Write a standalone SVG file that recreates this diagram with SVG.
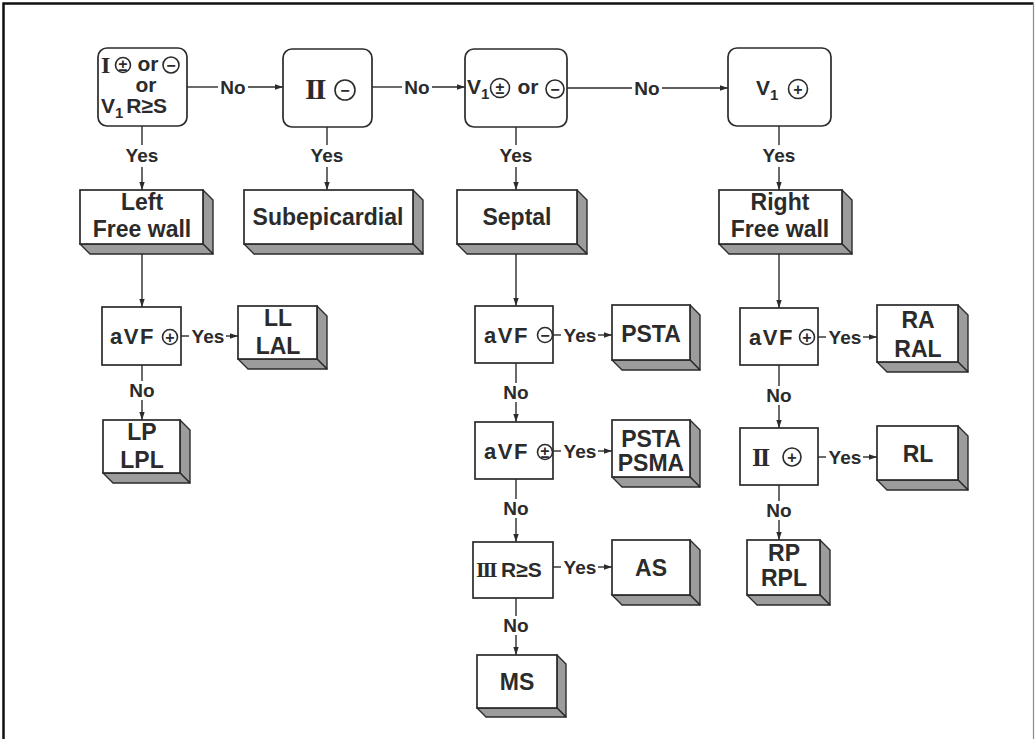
<svg xmlns="http://www.w3.org/2000/svg" width="1036" height="739" viewBox="0 0 1036 739">
<defs>
<marker id="ah" markerUnits="userSpaceOnUse" markerWidth="9" markerHeight="7" refX="8" refY="3.5" orient="auto">
<path d="M0,0.8 L8,3.5 L0,6.2 z" fill="#2b2b2b"/>
</marker>
<style>
.ln{stroke:#2b2b2b;stroke-width:1.4;fill:none}
.arr{stroke:#2b2b2b;stroke-width:1.4;fill:none;marker-end:url(#ah)}
.dec{fill:#fff;stroke:#2b2b2b;stroke-width:1.7}
.face{fill:#fff;stroke:#2b2b2b;stroke-width:1.7}
.side{fill:#9c9c9c;stroke:#2b2b2b;stroke-width:1.4;stroke-linejoin:round}
.lbl{font-family:"Liberation Sans",Arial,sans-serif;font-weight:bold;font-size:19px;fill:#2b2b2b;text-anchor:middle}
.bt{font-family:"Liberation Sans",Arial,sans-serif;font-weight:bold;font-size:23px;fill:#2b2b2b;text-anchor:middle}
.st{font-family:"Liberation Sans",Arial,sans-serif;font-weight:bold;font-size:21px;fill:#2b2b2b}
.av{font-family:"Liberation Sans",Arial,sans-serif;font-weight:bold;font-size:22px;letter-spacing:1.5px;fill:#2b2b2b}
.rom{font-family:"Liberation Serif","Times New Roman",serif;font-weight:bold;fill:#2b2b2b;letter-spacing:-2px}
.cir{fill:none;stroke:#2b2b2b;stroke-width:1.6}
.sym{font-family:"Liberation Sans",Arial,sans-serif;font-weight:bold;font-size:16px;fill:#2b2b2b;text-anchor:middle}
</style>
</defs>
<rect x="0" y="0" width="1036" height="739" fill="#fff"/>
<path d="M3.5,739 V3.5 H1033.5" fill="none" stroke="#111" stroke-width="2.5"/>
<line x1="1033.5" y1="3" x2="1033.5" y2="739" stroke="#8a8a8a" stroke-width="1.2"/>

<g id="connectors">
<line class="ln" x1="187" y1="87" x2="218" y2="87"/><line class="arr" x1="248" y1="87" x2="283" y2="87"/>
<text class="lbl" x="233" y="94">No</text>
<line class="ln" x1="372" y1="87" x2="402" y2="87"/><line class="arr" x1="432" y1="87" x2="465" y2="87"/>
<text class="lbl" x="417" y="94">No</text>
<line class="ln" x1="567" y1="88" x2="632" y2="88"/><line class="arr" x1="662" y1="88" x2="728" y2="88"/>
<text class="lbl" x="647" y="95">No</text>

<line class="ln" x1="142" y1="126" x2="142" y2="145"/><line class="arr" x1="142" y1="167" x2="142" y2="190"/>
<text class="lbl" x="142" y="162">Yes</text>
<line class="ln" x1="327" y1="127" x2="327" y2="145"/><line class="arr" x1="327" y1="167" x2="327" y2="190"/>
<text class="lbl" x="327" y="162">Yes</text>
<line class="ln" x1="516" y1="127" x2="516" y2="145"/><line class="arr" x1="516" y1="167" x2="516" y2="190"/>
<text class="lbl" x="516" y="162">Yes</text>
<line class="ln" x1="779" y1="126" x2="779" y2="145"/><line class="arr" x1="779" y1="167" x2="779" y2="190"/>
<text class="lbl" x="779" y="162">Yes</text>

<line class="arr" x1="142" y1="254" x2="142" y2="307"/>
<line class="arr" x1="516" y1="254" x2="516" y2="306"/>
<line class="arr" x1="779" y1="254" x2="779" y2="308"/>

<line class="ln" x1="181" y1="336" x2="189" y2="336"/><line class="arr" x1="226" y1="336" x2="238" y2="336"/>
<text class="lbl" x="208" y="343">Yes</text>
<line class="ln" x1="142" y1="365" x2="142" y2="381"/><line class="arr" x1="142" y1="400" x2="142" y2="420"/>
<text class="lbl" x="142" y="397">No</text>

<line class="ln" x1="553" y1="335" x2="561" y2="335"/><line class="arr" x1="598" y1="335" x2="612" y2="335"/>
<text class="lbl" x="580" y="342">Yes</text>
<line class="ln" x1="516" y1="363" x2="516" y2="383"/><line class="arr" x1="516" y1="402" x2="516" y2="422"/>
<text class="lbl" x="516" y="399">No</text>
<line class="ln" x1="553" y1="451" x2="561" y2="451"/><line class="arr" x1="598" y1="451" x2="612" y2="451"/>
<text class="lbl" x="580" y="458">Yes</text>
<line class="ln" x1="516" y1="479" x2="516" y2="499"/><line class="arr" x1="516" y1="518" x2="516" y2="542"/>
<text class="lbl" x="516" y="515">No</text>
<line class="ln" x1="553" y1="567" x2="561" y2="567"/><line class="arr" x1="598" y1="567" x2="612" y2="567"/>
<text class="lbl" x="580" y="574">Yes</text>
<line class="ln" x1="516" y1="598" x2="516" y2="616"/><line class="arr" x1="516" y1="635" x2="516" y2="655"/>
<text class="lbl" x="516" y="632">No</text>

<line class="ln" x1="818" y1="337" x2="826" y2="337"/><line class="arr" x1="863" y1="337" x2="877" y2="337"/>
<text class="lbl" x="845" y="344">Yes</text>
<line class="ln" x1="779" y1="365" x2="779" y2="386"/><line class="arr" x1="779" y1="405" x2="779" y2="428"/>
<text class="lbl" x="779" y="402">No</text>
<line class="ln" x1="818" y1="457" x2="826" y2="457"/><line class="arr" x1="863" y1="457" x2="877" y2="457"/>
<text class="lbl" x="845" y="464">Yes</text>
<line class="ln" x1="779" y1="485" x2="779" y2="501"/><line class="arr" x1="779" y1="520" x2="779" y2="540"/>
<text class="lbl" x="779" y="517">No</text>
</g>

<g id="n-lead1">
<rect class="dec" x="98" y="48" width="89" height="78" rx="9"/>
<text class="rom" x="101" y="73" font-size="24">I</text>
<circle class="cir" cx="123" cy="65" r="7.5"/><text class="sym" x="123" y="70.5" font-size="15">±</text>
<text class="st" x="148" y="71" font-size="17" text-anchor="middle">or</text>
<circle class="cir" cx="171" cy="65" r="8"/><text class="sym" x="171" y="70.5" font-size="15">−</text>
<text class="st" x="146" y="92" font-size="17" text-anchor="middle">or</text>
<text class="st" x="101" y="113" font-size="20">V<tspan font-size="15" dy="5">1</tspan><tspan dy="-5" dx="3">R≥S</tspan></text>
</g>

<g id="n-lead2">
<rect class="dec" x="283" y="49" width="89" height="78" rx="9"/>
<text class="rom" x="305" y="99" font-size="30">II</text>
<circle class="cir" cx="345" cy="90" r="10"/><text class="sym" x="345" y="96" font-size="17">−</text>
</g>

<g id="n-v1a">
<rect class="dec" x="465" y="49" width="102" height="78" rx="9"/>
<text class="st" x="467" y="94" font-size="20">V<tspan font-size="15" dy="5">1</tspan></text>
<circle class="cir" cx="500" cy="88" r="9.5"/><text class="sym" x="500" y="94" font-size="17">±</text>
<text class="st" x="528" y="94" font-size="19" text-anchor="middle">or</text>
<circle class="cir" cx="555" cy="89" r="9"/><text class="sym" x="555" y="95" font-size="17">−</text>
</g>

<g id="n-v1b">
<rect class="dec" x="728" y="48" width="103" height="78" rx="9"/>
<text class="st" x="756" y="95" font-size="20">V<tspan font-size="15" dy="5">1</tspan></text>
<circle class="cir" cx="798" cy="89" r="9.5"/><text class="sym" x="798" y="95" font-size="17">+</text>
</g>

<g id="n-leftfree">
<polygon class="side" points="203,190 213,200 213,254 203,244"/>
<polygon class="side" points="80,244 90,254 213,254 203,244"/>
<rect class="face" x="80" y="190" width="123" height="54"/>
<text class="bt" x="142" y="210">Left</text>
<text class="bt" x="142" y="237">Free wall</text>
</g>

<g id="n-subepi">
<polygon class="side" points="413,190 423,200 423,254 413,244"/>
<polygon class="side" points="244,244 254,254 423,254 413,244"/>
<rect class="face" x="244" y="190" width="169" height="54"/>
<text class="bt" x="328" y="225">Subepicardial</text>
</g>

<g id="n-septal">
<polygon class="side" points="577,190 587,200 587,254 577,244"/>
<polygon class="side" points="457,244 467,254 587,254 577,244"/>
<rect class="face" x="457" y="190" width="120" height="54"/>
<text class="bt" x="517" y="225">Septal</text>
</g>

<g id="n-rightfree">
<polygon class="side" points="842,190 852,200 852,254 842,244"/>
<polygon class="side" points="719,244 729,254 852,254 842,244"/>
<rect class="face" x="719" y="190" width="123" height="54"/>
<text class="bt" x="780" y="210">Right</text>
<text class="bt" x="780" y="237">Free wall</text>
</g>

<g id="n-l-avf">
<rect class="dec" x="102" y="307" width="79" height="58"/>
<text class="av" x="110" y="344">aVF</text>
<circle class="cir" cx="170" cy="337" r="7.5"/><text class="sym" x="170" y="342.5">+</text>
</g>

<g id="n-ll">
<polygon class="side" points="317,306 327,316 327,369 317,359"/>
<polygon class="side" points="238,359 248,369 327,369 317,359"/>
<rect class="face" x="238" y="306" width="79" height="53"/>
<text class="bt" x="278" y="326">LL</text>
<text class="bt" x="278" y="354">LAL</text>
</g>

<g id="n-lp">
<polygon class="side" points="180,420 190,430 190,483 180,473"/>
<polygon class="side" points="103,473 113,483 190,483 180,473"/>
<rect class="face" x="103" y="420" width="77" height="53"/>
<text class="bt" x="142" y="440">LP</text>
<text class="bt" x="142" y="468">LPL</text>
</g>

<g id="n-m-avf1">
<rect class="dec" x="475" y="306" width="78" height="57"/>
<text class="av" x="484" y="343">aVF</text>
<circle class="cir" cx="545" cy="335" r="7.5"/><text class="sym" x="545" y="340.5">−</text>
</g>

<g id="n-psta">
<polygon class="side" points="690,305 700,315 700,370 690,360"/>
<polygon class="side" points="612,360 622,370 700,370 690,360"/>
<rect class="face" x="612" y="305" width="78" height="55"/>
<text class="bt" x="651" y="342">PSTA</text>
</g>

<g id="n-m-avf2">
<rect class="dec" x="475" y="422" width="78" height="57"/>
<text class="av" x="484" y="459">aVF</text>
<circle class="cir" cx="545" cy="452" r="7.5"/><text class="sym" x="545" y="457.5">±</text>
</g>

<g id="n-pstapsma">
<polygon class="side" points="690,420 700,430 700,487 690,477"/>
<polygon class="side" points="612,477 622,487 700,487 690,477"/>
<rect class="face" x="612" y="420" width="78" height="57"/>
<text class="bt" x="651" y="447">PSTA</text>
<text class="bt" x="651" y="471">PSMA</text>
</g>

<g id="n-m-iii">
<rect class="dec" x="473" y="542" width="80" height="56"/>
<text class="rom" x="476" y="577" font-size="22">III</text>
<text class="st" x="501" y="577" font-size="20">R≥S</text>
</g>

<g id="n-as">
<polygon class="side" points="690,540 700,550 700,605 690,595"/>
<polygon class="side" points="612,595 622,605 700,605 690,595"/>
<rect class="face" x="612" y="540" width="78" height="55"/>
<text class="bt" x="651" y="576">AS</text>
</g>

<g id="n-ms">
<polygon class="side" points="557,655 566,664 566,717 557,708"/>
<polygon class="side" points="477,708 486,717 566,717 557,708"/>
<rect class="face" x="477" y="655" width="80" height="53"/>
<text class="bt" x="517" y="690">MS</text>
</g>

<g id="n-r-avf">
<rect class="dec" x="740" y="308" width="78" height="57"/>
<text class="av" x="749" y="345">aVF</text>
<circle class="cir" cx="807" cy="337" r="7.5"/><text class="sym" x="807" y="342.5">+</text>
</g>

<g id="n-ra">
<polygon class="side" points="958,305 968,315 968,372 958,362"/>
<polygon class="side" points="877,362 887,372 968,372 958,362"/>
<rect class="face" x="877" y="305" width="81" height="57"/>
<text class="bt" x="918" y="328">RA</text>
<text class="bt" x="918" y="357">RAL</text>
</g>

<g id="n-r-ii">
<rect class="dec" x="740" y="428" width="78" height="57"/>
<text class="rom" x="752" y="466" font-size="26">II</text>
<circle class="cir" cx="792" cy="457" r="9"/><text class="sym" x="792" y="462.5">+</text>
</g>

<g id="n-rl">
<polygon class="side" points="958,426 968,436 968,490 958,480"/>
<polygon class="side" points="877,480 887,490 968,490 958,480"/>
<rect class="face" x="877" y="426" width="81" height="54"/>
<text class="bt" x="918" y="462">RL</text>
</g>

<g id="n-rp">
<polygon class="side" points="820,540 830,550 830,605 820,595"/>
<polygon class="side" points="747,595 757,605 830,605 820,595"/>
<rect class="face" x="747" y="540" width="73" height="55"/>
<text class="bt" x="784" y="561">RP</text>
<text class="bt" x="784" y="586">RPL</text>
</g>
</svg>
